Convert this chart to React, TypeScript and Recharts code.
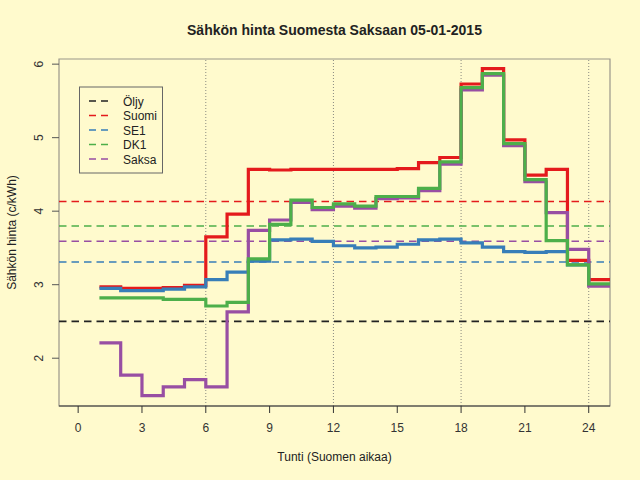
import React from 'react';
import { LineChart, Line, XAxis, YAxis, ReferenceLine, ReferenceArea } from 'recharts';

// tunnit 1..24, hinnat c/kWh
const hours = [1, 2, 3, 4, 5, 6, 7, 8, 9, 10, 11, 12, 13, 14, 15, 16, 17, 18, 19, 20, 21, 22, 23, 24];
const suomi = [2.97, 2.95, 2.95, 2.96, 2.99, 3.65, 3.96, 4.57, 4.56, 4.57, 4.57, 4.57, 4.57, 4.57, 4.58, 4.66, 4.73, 5.73, 5.94, 4.97, 4.49, 4.57, 3.33, 3.07];
const se1 = [2.95, 2.92, 2.92, 2.94, 2.97, 3.07, 3.17, 3.32, 3.61, 3.62, 3.59, 3.53, 3.50, 3.51, 3.55, 3.61, 3.62, 3.57, 3.51, 3.45, 3.44, 3.45, 3.27, 3.00];
const dk1 = [2.82, 2.82, 2.82, 2.80, 2.80, 2.71, 2.76, 3.35, 3.82, 4.15, 4.05, 4.10, 4.07, 4.20, 4.20, 4.31, 4.67, 5.68, 5.87, 4.92, 4.43, 3.60, 3.27, 3.01];
const saksa = [2.21, 1.77, 1.49, 1.61, 1.71, 1.61, 2.63, 3.74, 3.88, 4.12, 4.02, 4.07, 4.04, 4.17, 4.18, 4.28, 4.64, 5.65, 5.85, 4.89, 4.40, 3.98, 3.48, 2.98];

// vuorokauden keskiarvot (vaakaviivat)
const averages = [
  { name: 'Öljy', value: 2.5, color: '#222222' },
  { name: 'Suomi', value: 4.13, color: '#E41A1C' },
  { name: 'SE1', value: 3.31, color: '#377EB8' },
  { name: 'DK1', value: 3.8, color: '#4DAF4A' },
  { name: 'Saksa', value: 3.59, color: '#984EA3' },
];

const xTicks = [0, 3, 6, 9, 12, 15, 18, 21, 24];
const yTicks = [2, 3, 4, 5, 6];
const dayMarks = [6, 12, 18, 24];

const FONT = '"Liberation Sans", Arial, sans-serif';
const BG = '#FFFACD';

const rows = hours.map((h, i) => ({ hour: h, suomi: suomi[i], se1: se1[i], dk1: dk1[i], saksa: saksa[i] }));
// viimeinen porras päättyy tunnille 25
const last = hours.length - 1;
rows.push({ hour: hours[last] + 1, suomi: suomi[last], se1: se1[last], dk1: dk1[last], saksa: saksa[last] });

const XTick = (props: any) => {
  const { x, y, payload } = props;
  return (
    <text x={x} y={y + 19} textAnchor="middle" fontSize={12} fill="#333" fontFamily={FONT}>
      {payload.value}
    </text>
  );
};

const YTick = (props: any) => {
  const { x, y, payload } = props;
  const tx = x - 9;
  return (
    <text x={tx} y={y} transform={`rotate(-90 ${tx} ${y})`} textAnchor="middle" fontSize={12} fill="#333" fontFamily={FONT}>
      {payload.value}
    </text>
  );
};

export default function App() {
  return (
    <div style={{ position: 'fixed', left: 0, top: 0, width: 640, height: 480, background: BG }}>
      <LineChart width={640} height={480} data={rows} margin={{ top: 59, right: 30, bottom: 44, left: 0 }}>
        <ReferenceArea x1={-0.9} x2={25} y1={1.35} y2={6.07} stroke="#9a968a" strokeWidth={1.2} fill="none" fillOpacity={0} ifOverflow="visible" />
        {dayMarks.map((d) => (
          <ReferenceLine key={d} x={d} stroke="#8a8a80" strokeDasharray="1 2" strokeWidth={1} />
        ))}
        {averages.map((a) => (
          <ReferenceLine key={a.name} y={a.value} stroke={a.color} strokeDasharray="7.5 5" strokeWidth={a.name === 'Öljy' ? 1.8 : 1.5} />
        ))}
        <XAxis
          dataKey="hour"
          type="number"
          domain={[-0.9, 25]}
          ticks={xTicks}
          allowDataOverflow
          height={30}
          tickSize={7}
          tickMargin={0}
          tick={<XTick />}
          tickLine={{ stroke: '#333' }}
          axisLine={{ stroke: '#333', strokeWidth: 1.2 }}
        />
        <YAxis
          type="number"
          domain={[1.35, 6.07]}
          ticks={yTicks}
          allowDataOverflow
          width={59}
          tickSize={7}
          tickMargin={0}
          tick={<YTick />}
          tickLine={{ stroke: '#555' }}
          axisLine={false}
        />
        <Line type="stepAfter" dataKey="suomi" stroke="#E41A1C" strokeWidth={3.2} dot={false} activeDot={false} isAnimationActive={false} />
        <Line type="stepAfter" dataKey="se1" stroke="#377EB8" strokeWidth={3.2} dot={false} activeDot={false} isAnimationActive={false} />
        <Line type="stepAfter" dataKey="saksa" stroke="#984EA3" strokeWidth={3.2} dot={false} activeDot={false} isAnimationActive={false} />
        <Line type="stepAfter" dataKey="dk1" stroke="#4DAF4A" strokeWidth={3.2} dot={false} activeDot={false} isAnimationActive={false} />
      </LineChart>
      <svg width={640} height={480} style={{ position: 'absolute', left: 0, top: 0, pointerEvents: 'none' }} fontFamily={FONT}>
        <text x={334.5} y={35} textAnchor="middle" fontSize={14} fontWeight="bold" fill="#222">
          Sähkön hinta Suomesta Saksaan 05-01-2015
        </text>
        <text x={334.5} y={461} textAnchor="middle" fontSize={12} fill="#222">
          Tunti (Suomen aikaa)
        </text>
        <text x={16} y={232.5} transform="rotate(-90 16 232.5)" textAnchor="middle" fontSize={12} fill="#222">
          Sähkön hinta (c/kWh)
        </text>
        <rect x={79.5} y={87} width={83} height={86} fill="none" stroke="#666" strokeWidth={1} />
        {averages.map((a, i) => {
          const cy = 101 + i * 14.5;
          return (
            <g key={a.name}>
              <line x1={89} x2={109} y1={cy} y2={cy} stroke={a.color} strokeWidth={1.6} strokeDasharray="7 5" />
              <text x={123} y={cy + 4.5} fontSize={12} fill="#222">
                {a.name}
              </text>
            </g>
          );
        })}
      </svg>
    </div>
  );
}
